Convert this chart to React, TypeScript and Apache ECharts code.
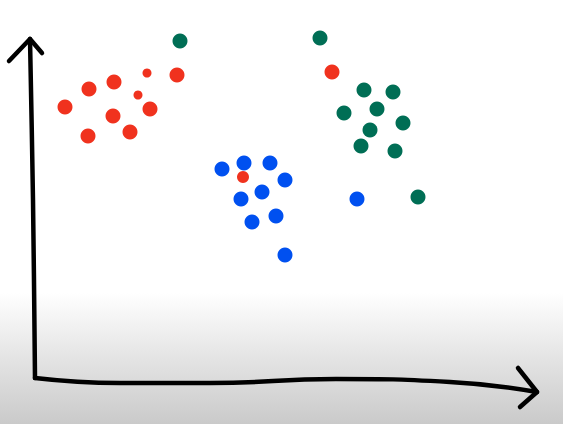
import React, { useEffect, useRef } from "react";
import * as echarts from "echarts";

// Data coordinates: origin at the axes' corner.
const redPoints: number[][] = [
  [29, 271], [53, 289], [78, 296], [141, 303], [114, 269],
  [77, 262], [52, 242], [94, 246], [296, 306],
];
const redSmallPoints: number[][] = [
  [111, 305], [102, 283],
];
const redMediumPoints: number[][] = [
  [207, 201],
];
const greenPoints: number[][] = [
  [144, 337], [284, 340], [328, 288], [357, 286], [308, 265], [341, 269],
  [367, 255], [334, 248], [325, 232], [359, 227], [382, 181],
];
const bluePoints: number[][] = [
  [186, 209], [208, 215], [234, 215], [249, 198], [226, 186], [205, 179],
  [240, 162], [216, 156], [249, 123], [321, 179],
];

// Hand-drawn axes strokes
const yAxisStroke: number[][] = [[-1, 0], [-3, 178], [-6, 339]];
const yArrowHead: number[][] = [[-27, 317], [-6, 339], [6, 325]];
const xAxisStroke: number[][] = [
  [-1, 0], [84, -5], [174, -5], [300, -1], [414, -4], [501, -14],
];
const xArrowHead: number[][] = [[482, 10], [501, -14], [484, -29]];

const RED = "#f0321e";
const GREEN = "#006e55";
const BLUE = "#0050f0";

export default function App() {
  const ref = useRef<HTMLDivElement>(null);
  useEffect(() => {
    if (!ref.current) return;
    const chart = echarts.init(ref.current, undefined, { renderer: "svg" });
    const stroke = (data: number[][], smooth: boolean | number) => ({
      type: "line",
      data,
      smooth,
      symbol: "none",
      silent: true,
      lineStyle: { color: "#000", width: 4.5, cap: "round", join: "round" },
      z: 1,
    });
    const dots = (data: number[][], color: string, size: number) => ({
      type: "scatter",
      data,
      symbol: "circle",
      symbolSize: size,
      itemStyle: { color, opacity: 1 },
      z: 3,
    });
    chart.setOption({
      animation: false,
      backgroundColor: {
        type: "linear",
        x: 0, y: 0, x2: 0, y2: 1,
        colorStops: [
          { offset: 0, color: "#ffffff" },
          { offset: 0.69, color: "#ffffff" },
          { offset: 0.85, color: "#e3e3e3" },
          { offset: 1, color: "#cacaca" },
        ],
      },
      grid: { left: 0, right: 0, top: 0, bottom: 0 },
      xAxis: {
        type: "value", min: -36, max: 527, show: false,
        splitLine: { show: false },
      },
      yAxis: {
        type: "value", min: -46, max: 378, show: false,
        splitLine: { show: false },
      },
      series: [
        stroke(yAxisStroke, 0.3),
        stroke(yArrowHead, false),
        stroke(xAxisStroke, 0.5),
        stroke(xArrowHead, false),
        dots(redPoints, RED, 15),
        dots(redSmallPoints, RED, 9),
        dots(redMediumPoints, RED, 12),
        dots(greenPoints, GREEN, 15),
        dots(bluePoints, BLUE, 15),
      ],
    });
    return () => chart.dispose();
  }, []);
  return (
    <div
      ref={ref}
      style={{ position: "fixed", left: 0, top: 0, width: 563, height: 424 }}
    />
  );
}
